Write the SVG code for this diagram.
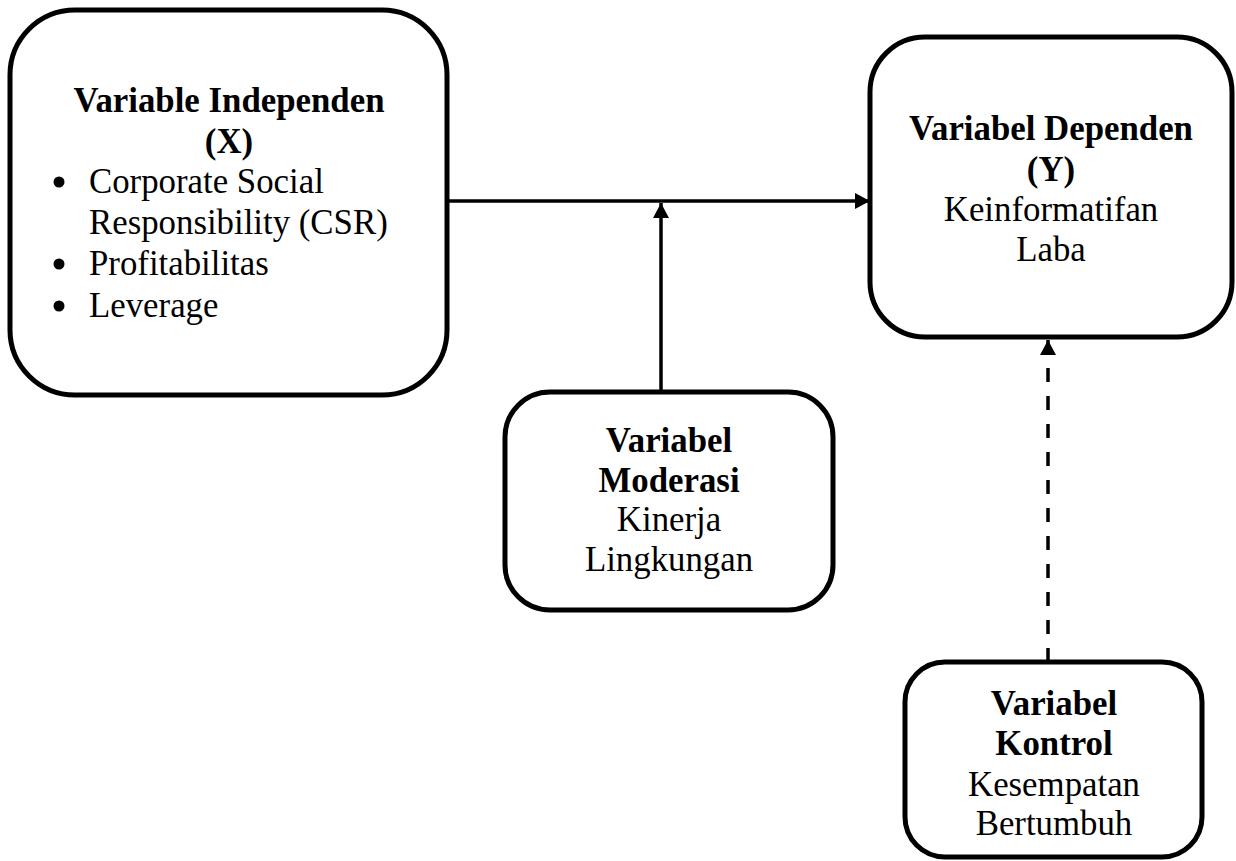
<svg xmlns="http://www.w3.org/2000/svg" width="1236" height="861" viewBox="0 0 1236 861">
<style>
.box{fill:#fff;stroke:#000;stroke-width:5}
.t{font-family:'Liberation Serif','Times New Roman',Times,serif;font-size:34.8px;fill:#000}
.b{font-weight:bold}
.c{text-anchor:middle}
.ln{stroke:#000;stroke-width:3.5;fill:none}
</style>
<defs>
<marker id="ah" viewBox="0 0 15 16" refX="15" refY="8" markerWidth="15" markerHeight="16" markerUnits="userSpaceOnUse" orient="auto">
<path d="M0,0 L15,8 L0,16 Z" fill="#000"/>
</marker>
</defs>
<g id="connectors">
<line class="ln" x1="449" y1="201" x2="870" y2="201" marker-end="url(#ah)"/>
<line class="ln" x1="661" y1="392" x2="661" y2="203" marker-end="url(#ah)"/>
<line class="ln" x1="1048" y1="662" x2="1048" y2="340" stroke-dasharray="14 14" marker-end="url(#ah)"/>
</g>
<g id="independen">
<rect class="box" x="10" y="10" width="437" height="385" rx="65" ry="65"/>
<text class="t b c" x="229" y="112">Variable Independen</text>
<text class="t b c" x="229" y="153">(X)</text>
<circle cx="59" cy="182" r="5.5"/>
<text class="t" x="89" y="193">Corporate Social</text>
<text class="t" x="89" y="234">Responsibility (CSR)</text>
<circle cx="59" cy="264" r="5.5"/>
<text class="t" x="89" y="275">Profitabilitas</text>
<circle cx="59" cy="306" r="5.5"/>
<text class="t" x="89" y="317">Leverage</text>
</g>
<g id="dependen">
<rect class="box" x="870" y="37" width="362" height="300" rx="55" ry="55"/>
<text class="t b c" x="1051" y="140">Variabel Dependen</text>
<text class="t b c" x="1051" y="181">(Y)</text>
<text class="t c" x="1051" y="221">Keinformatifan</text>
<text class="t c" x="1051" y="261">Laba</text>
</g>
<g id="moderasi">
<rect class="box" x="505" y="392" width="328" height="218" rx="45" ry="45"/>
<text class="t b c" x="669" y="452">Variabel</text>
<text class="t b c" x="669" y="492">Moderasi</text>
<text class="t c" x="669" y="531">Kinerja</text>
<text class="t c" x="669" y="571">Lingkungan</text>
</g>
<g id="kontrol">
<rect class="box" x="905" y="662" width="297" height="195" rx="40" ry="40"/>
<text class="t b c" x="1054" y="715">Variabel</text>
<text class="t b c" x="1054" y="755">Kontrol</text>
<text class="t c" x="1054" y="796">Kesempatan</text>
<text class="t c" x="1054" y="835">Bertumbuh</text>
</g>
</svg>
